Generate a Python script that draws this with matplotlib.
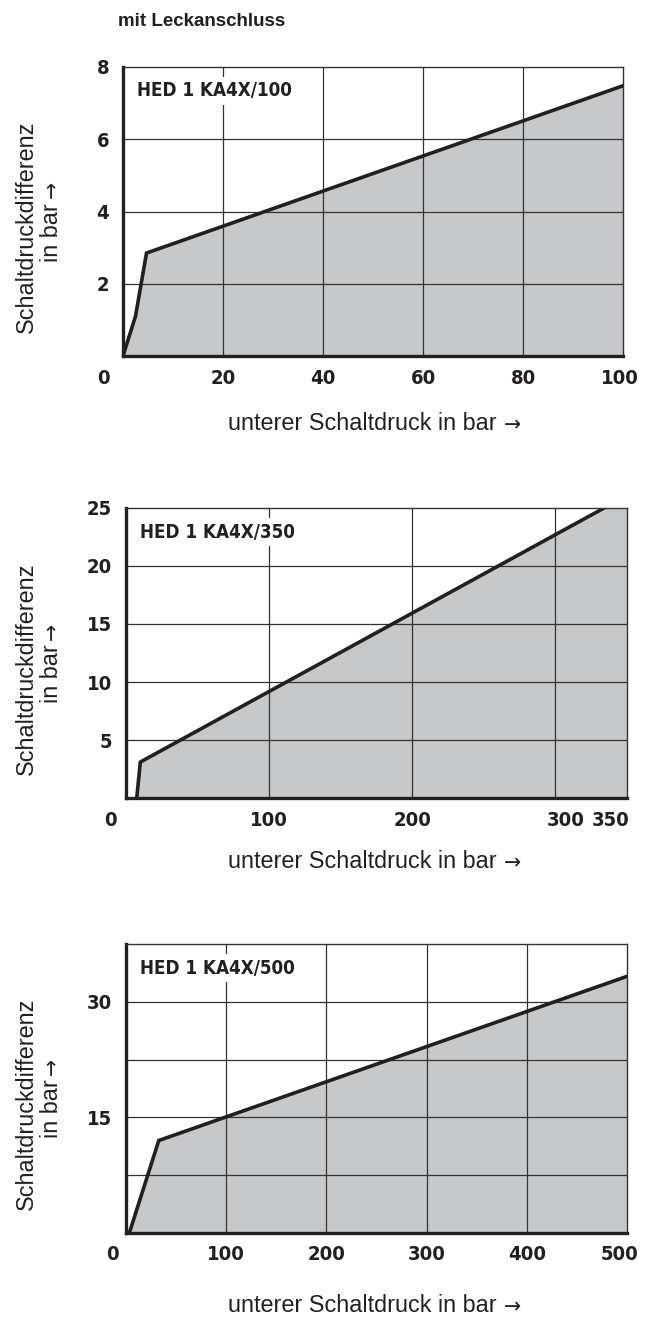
import matplotlib
matplotlib.use("Agg")
import matplotlib.pyplot as plt
import matplotlib.transforms as mtransforms
from matplotlib import font_manager

# ---------------- data ----------------
title_text = "mit Leckanschluss"
ylabel_line1 = "Schaltdruckdifferenz"
ylabel_line2 = "in bar"
xlabel_text = "unterer Schaltdruck in bar"
arrow = "→"

names1 = "HED 1 KA4X/100"
x1 = [0, 2.5, 4.7, 100]
y1 = [0, 1.1, 2.85, 7.48]
xticks1 = [0, 20, 40, 60, 80, 100]
yticks1 = [2, 4, 6, 8]
ytlabels1 = ["2", "4", "6", "8"]

names2 = "HED 1 KA4X/350"
x2 = [7.5, 10, 334]
y2 = [0, 3.1, 25]
xticks2 = [0, 100, 200, 300, 350]
yticks2 = [5, 10, 15, 20, 25]
ytlabels2 = ["5", "10", "15", "20", "25"]

names3 = "HED 1 KA4X/500"
x3 = [3.3, 32.7, 500]
y3 = [0, 12.0, 33.3]
xticks3 = [0, 100, 200, 300, 400, 500]
yticks3 = [7.5, 15, 22.5, 30]
ytlabels3 = ["", "15", "", "30"]

# ---------------- style ----------------
ttf = font_manager.fontManager.ttflist
cond_ok = any(f.name == "DejaVu Sans" and f.stretch == "condensed" and f.weight in (700, "bold")
              for f in ttf)
COND_FP = font_manager.FontProperties(family="DejaVu Sans", weight="bold",
                                      stretch="condensed" if cond_ok else "normal")
SANS = "Liberation Sans"
FILL = "#c7c8ca"
LINE = "#231f20"
GRID = "#333333"
TICK_FS = 14.5 if cond_ok else 13
NAME_FS = 13.5 if cond_ok else 12.5
LAB_FS = 16.8

W, H = 649, 1331
DPI = 100
fig = plt.figure(figsize=(W / DPI, H / DPI), dpi=DPI)

def fy(p):
    return 1 - p / H

def px_rect(l, t, r, b):
    return [l / W, 1 - b / H, (r - l) / W, (b - t) / H]

def make_panel(rect_px, xs, ys, xlim, ylim, xticks, yticks, ytlabels, xgrid, name,
               xoffsets, xlab_y):
    l, t, r, b = rect_px
    ax = fig.add_axes(px_rect(l, t, r, b))
    ax.set_xlim(*xlim)
    ax.set_ylim(*ylim)
    fx = list(xs)
    fyv = list(ys)
    if fx[-1] < xlim[1]:
        fx.append(xlim[1])
        fyv.append(fyv[-1])
    ax.fill_between(fx, fyv, 0, color=FILL, lw=0, zorder=1)
    for g in xgrid:
        ax.axvline(g, color=GRID, lw=0.9, zorder=2)
    for g in yticks:
        if g < ylim[1]:
            ax.axhline(g, color=GRID, lw=0.9, zorder=2)
    ax.plot(xs, ys, color=LINE, lw=2.6, solid_joinstyle="miter", zorder=4)
    for s in ["left", "bottom"]:
        ax.spines[s].set_linewidth(2.4)
        ax.spines[s].set_color(LINE)
    for s in ["top", "right"]:
        ax.spines[s].set_linewidth(1.0)
        ax.spines[s].set_color(GRID)
    for sp in ax.spines.values():
        sp.set_zorder(5)
    ax.set_xticks(xticks)
    ax.set_xticklabels([str(v) for v in xticks])
    ax.set_yticks(yticks)
    ax.set_yticklabels(ytlabels)
    ax.tick_params(axis="y", length=0, pad=10)
    ax.tick_params(axis="x", length=0, pad=9)
    for lab in ax.get_xticklabels() + ax.get_yticklabels():
        lab.set_fontproperties(COND_FP)
        lab.set_fontsize(TICK_FS)
        lab.set_color(LINE)
    for lab, dx in zip(ax.get_xticklabels(), xoffsets):
        if dx:
            off = mtransforms.ScaledTranslation(dx / DPI, 0, fig.dpi_scale_trans)
            lab.set_transform(lab.get_transform() + off)
    fig.text((l + 14) / W, fy(t + 24), name, ha="left", va="center",
             fontproperties=COND_FP, fontsize=NAME_FS, color=LINE, zorder=6,
             bbox=dict(facecolor="white", edgecolor="none", pad=3))
    cy = (t + b) / 2
    fig.text(26 / W, fy(cy + 15.5), ylabel_line1, rotation=90, ha="center", va="center",
             fontfamily=SANS, fontsize=LAB_FS, color=LINE)
    fig.text(51 / W, fy(cy + 50), ylabel_line2, rotation=90, ha="center", va="bottom",
             fontfamily=SANS, fontsize=LAB_FS, color=LINE)
    fig.text(52 / W, fy(cy - 22), arrow, rotation=90, ha="center", va="center",
             fontfamily="DejaVu Sans", fontsize=LAB_FS - 2, color=LINE)
    fig.text(228 / W, fy(xlab_y), xlabel_text, ha="left", va="center",
             fontfamily=SANS, fontsize=LAB_FS, color=LINE)
    fig.text(512 / W, fy(xlab_y + 1), arrow, ha="center", va="center",
             fontfamily="DejaVu Sans", fontsize=LAB_FS - 2, color=LINE)
    return ax

fig.text(118 / W, fy(22), title_text, ha="left", va="center",
         fontfamily=SANS, fontweight="bold", fontsize=13.5, color=LINE)

make_panel((123, 67, 623, 356), x1, y1, (0, 100), (0, 8), xticks1, yticks1, ytlabels1,
           [20, 40, 60, 80], names1, [-20, 0, 0, 0, 0, -3], 424)
make_panel((126, 508, 627, 798), x2, y2, (0, 350), (0, 25), xticks2, yticks2, ytlabels2,
           [100, 200, 300], names2, [-16, 0, 0, 10, -16], 862)
make_panel((126, 944, 627, 1233), x3, y3, (0, 500), (0, 37.5), xticks3, yticks3, ytlabels3,
           [100, 200, 300, 400], names3, [-14, 0, 0, 0, 0, -7], 1306)

fig.savefig("out.png", dpi=DPI)
